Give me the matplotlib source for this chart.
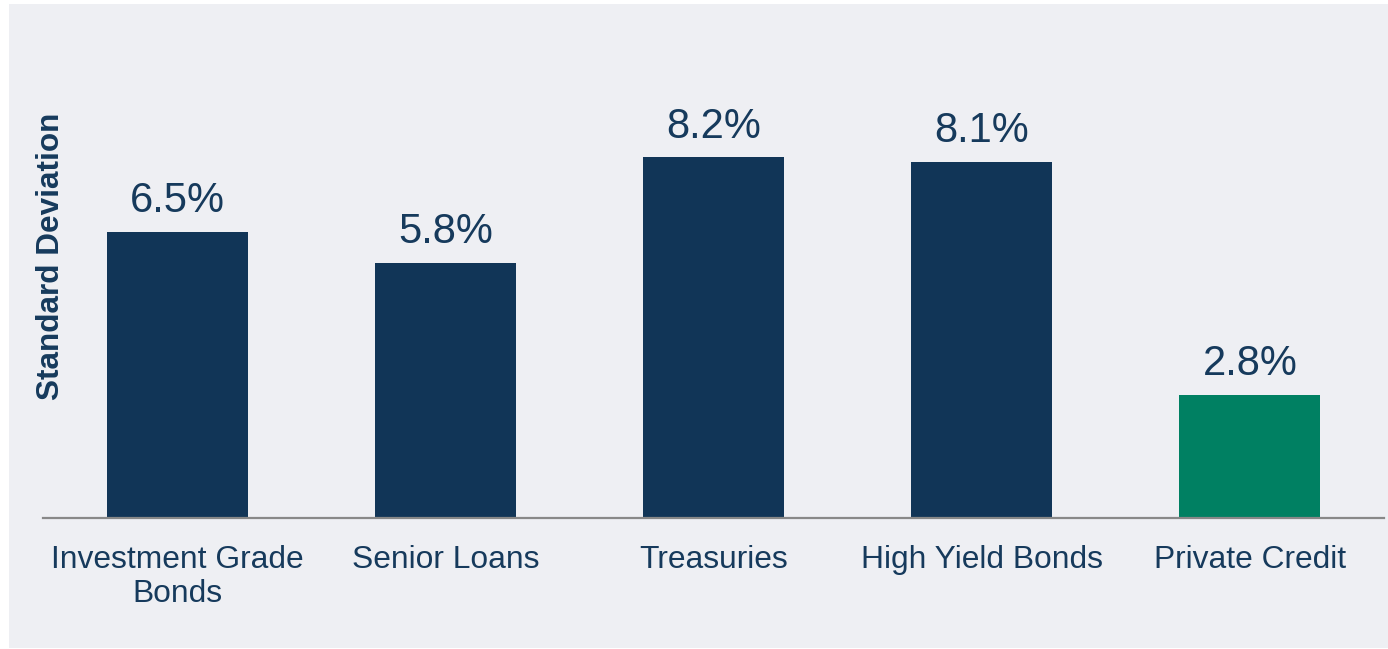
import matplotlib
matplotlib.use("Agg")
import matplotlib.pyplot as plt
from matplotlib.patches import Rectangle

# Data
categories = ["Investment Grade\nBonds", "Senior Loans", "Treasuries", "High Yield Bonds", "Private Credit"]
std_dev = [6.5, 5.8, 8.2, 8.1, 2.8]
value_labels = ["6.5%", "5.8%", "8.2%", "8.1%", "2.8%"]

# Styling
NAVY = "#113557"
GREEN = "#008062"
TEXT = "#163a5c"
PANEL = "#eeeff3"
bar_colors = [NAVY, NAVY, NAVY, NAVY, GREEN]

plt.rcParams["font.family"] = ["Liberation Sans", "DejaVu Sans"]

W, H = 1388, 649
fig = plt.figure(figsize=(W / 100, H / 100), dpi=100)
fig.patch.set_facecolor("white")

# light panel behind the chart
fig.patches.append(Rectangle((9 / W, 1 / H), (W - 9) / W, (H - 5) / H,
                             transform=fig.transFigure, facecolor=PANEL,
                             edgecolor="none", zorder=-10))

left, right = 43 / W, 1384 / W
bottom = (H - 517.7) / H
top_px = 517.7 - 10 * 43.95
top = (H - top_px) / H
ax = fig.add_axes([left, bottom, right - left, top - bottom])
ax.set_facecolor("none")
ax.set_zorder(1)

x = list(range(len(categories)))
bars = ax.bar(x, std_dev, width=0.526, color=bar_colors, zorder=2)

for rect, lab in zip(bars, value_labels):
    ax.annotate(lab, (rect.get_x() + rect.get_width() / 2, rect.get_height()),
                xytext=(0, 14.2), textcoords="offset points",
                ha="center", va="baseline", fontsize=30, color=TEXT)

ax.set_xlim(-0.5, 4.5)
ax.set_ylim(0, 10)
ax.set_xticks(x)
ax.set_xticklabels(categories, fontsize=22.9, color=TEXT, linespacing=1.2)
ax.tick_params(axis="x", length=0, pad=19.5)
ax.set_yticks([])

for side in ["top", "right", "left"]:
    ax.spines[side].set_visible(False)
ax.spines["bottom"].set_color("#888888")
ax.spines["bottom"].set_linewidth(1.6)
ax.spines["bottom"].set_zorder(3)

fig.text(50.8 / W, (H - 256.5) / H, "Standard Deviation", rotation=90,
         ha="center", va="center", fontsize=22.7, fontweight="bold", color=TEXT,
         zorder=2)

fig.savefig("out.png", dpi=100, facecolor=fig.get_facecolor())
